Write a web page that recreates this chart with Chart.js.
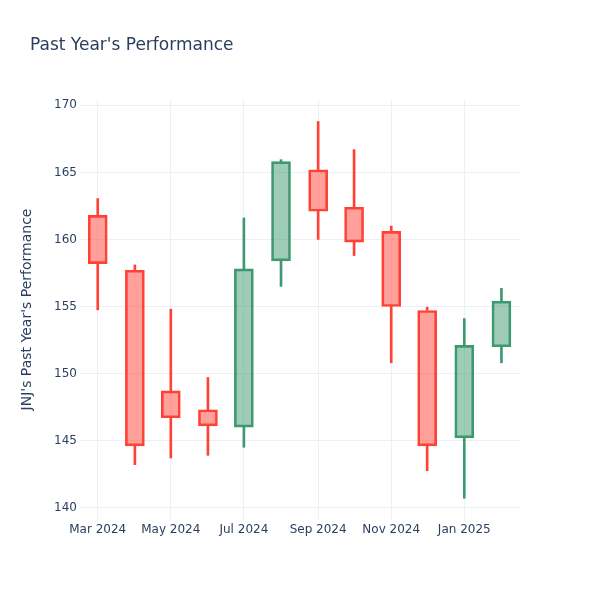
<!DOCTYPE html>
<html>
<head>
<meta charset="utf-8">
<script src="https://cdn.jsdelivr.net/npm/chart.js@4/dist/chart.umd.min.js"></script>
<style>
  html, body { margin: 0; padding: 0; background: #fff; }
  #c { display: block; }
</style>
</head>
<body>
<canvas id="c" width="600" height="600"></canvas>
<script>
const dates  = ['2024-03-01','2024-04-01','2024-05-01','2024-06-01','2024-07-01','2024-08-01',
                '2024-09-01','2024-10-01','2024-11-01','2024-12-01','2025-01-01','2025-02-01'];
const opens  = [161.8, 157.7, 148.7, 147.3, 146.0, 158.4, 165.2, 162.4, 160.6, 154.7, 145.2, 152.0];
const highs  = [163.05,158.1, 154.8, 149.7, 161.6, 165.95,168.8, 166.7, 161.0, 154.95,154.1, 156.35];
const lows   = [154.75,143.2, 143.7, 143.9, 144.5, 156.5, 160.0, 158.8, 150.8, 142.75,140.7, 150.8];
const closes = [158.2, 144.6, 146.7, 146.1, 157.8, 165.8, 162.1, 159.8, 155.0, 144.6, 152.1, 155.4];

const xTickDates  = ['2024-03-01','2024-05-01','2024-07-01','2024-09-01','2024-11-01','2025-01-01'];
const xTickLabels = ['Mar 2024','May 2024','Jul 2024','Sep 2024','Nov 2024','Jan 2025'];
const yTicks = [140, 145, 150, 155, 160, 165, 170];

const titleText = "Past Year's Performance";
const yTitle = "JNJ's Past Year's Performance";

const BASE = Date.UTC(2024, 2, 1);
function dayOf(s) { const p = s.split('-').map(Number); return (Date.UTC(p[0], p[1]-1, p[2]) - BASE) / 86400000; }

const UP = '#3D9970', DOWN = '#FF4136';
const UP_FILL = 'rgba(61,153,112,0.5)', DOWN_FILL = 'rgba(255,65,54,0.5)';
const isUp = closes.map((c, i) => c >= opens[i]);
const lineCol = isUp.map(u => u ? UP : DOWN);
const fillCol = isUp.map(u => u ? UP_FILL : DOWN_FILL);

const xs = dates.map(dayOf);
const bodyData  = xs.map((x, i) => ({ x, y: [Math.min(opens[i], closes[i]), Math.max(opens[i], closes[i])] }));
const lowWick   = xs.map((x, i) => ({ x, y: [lows[i], Math.min(opens[i], closes[i])] }));
const highWick  = xs.map((x, i) => ({ x, y: [Math.max(opens[i], closes[i]), highs[i]] }));

const FONT = "'DejaVu Sans', 'Open Sans', Verdana, Arial, sans-serif";
const TXT = '#2a3f5f';
const GRID = '#EBF0F8';

const titlePlugin = {
  id: 'plotTitle',
  afterDraw(chart) {
    const ctx = chart.ctx;
    ctx.save();
    ctx.fillStyle = TXT;
    ctx.font = "17px " + FONT;
    ctx.textAlign = 'left';
    ctx.textBaseline = 'alphabetic';
    ctx.fillText(titleText, 30, 50);
    ctx.restore();
  }
};

new Chart(document.getElementById('c'), {
  type: 'bar',
  data: {
    datasets: [
      { data: bodyData, backgroundColor: fillCol, borderColor: lineCol, borderWidth: 2,
        borderSkipped: false, barThickness: 19, grouped: false, order: 0 },
      { data: lowWick, backgroundColor: lineCol, borderWidth: 0,
        barThickness: 2, grouped: false, order: 1 },
      { data: highWick, backgroundColor: lineCol, borderWidth: 0,
        barThickness: 2, grouped: false, order: 1 }
    ]
  },
  options: {
    responsive: false,
    animation: false,
    devicePixelRatio: 1,
    layout: { padding: { left: 0, right: 80, top: 100, bottom: 51 } },
    plugins: { legend: { display: false }, tooltip: { enabled: false }, title: { display: false } },
    scales: {
      x: {
        type: 'linear',
        offset: false,
        min: -14.8,
        max: 352.5,
        afterBuildTicks(scale) { scale.ticks = xTickDates.map(d => ({ value: dayOf(d) })); },
        afterFit(scale) { scale.height = 30; },
        ticks: {
          autoSkip: false, maxRotation: 0, padding: 4,
          color: TXT, font: { family: FONT, size: 12 },
          callback: (v, i) => xTickLabels[i]
        },
        grid: { color: GRID, lineWidth: 1, drawTicks: false, offset: false },
        border: { display: false }
      },
      y: {
        min: 139.15,
        max: 170.4,
        afterBuildTicks(scale) { scale.ticks = yTicks.map(v => ({ value: v })); },
        afterFit(scale) { scale.width = 80; },
        ticks: {
          padding: 3, color: TXT, font: { family: FONT, size: 12 },
          callback: v => String(v)
        },
        grid: { color: GRID, lineWidth: 1, drawTicks: false },
        border: { display: false },
        title: {
          display: true, text: yTitle, color: TXT,
          font: { family: FONT, size: 14 },
          padding: { top: 19, bottom: 0 }
        }
      }
    }
  },
  plugins: [titlePlugin]
});
</script>
</body>
</html>
